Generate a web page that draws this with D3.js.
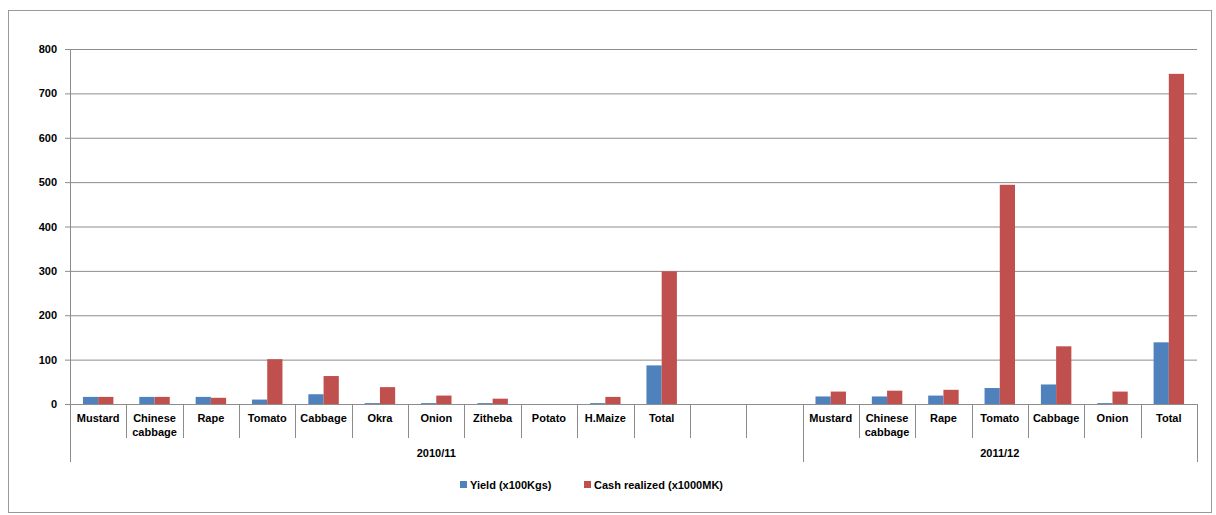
<!DOCTYPE html>
<html><head><meta charset="utf-8">
<script src="https://cdn.jsdelivr.net/npm/d3@7"></script>
<style>body{margin:0;background:#fff;font-family:"Liberation Sans",Arial,sans-serif}</style>
</head><body><svg id="c" width="1216" height="515"></svg>
<script>
// categories; empty strings are blank slots
var categories = ["Mustard","Chinese\ncabbage","Rape","Tomato","Cabbage","Okra","Onion","Zitheba","Potato","H.Maize","Total","","",
                  "Mustard","Chinese\ncabbage","Rape","Tomato","Cabbage","Onion","Total"];
var groups = [{name:"2010/11", start:0, end:13},{name:"2011/12", start:13, end:20}];
var yieldVals = [16,16,16,10,22,2,2,2,0,2,87,null,null, 17,17,19,36,44,2,139];
var cashVals  = [16,16,14,101,63,38,19,12,0,16,299,null,null, 28,30,32,494,130,28,744];
var yTicks = [0,100,200,300,400,500,600,700,800];

var svg = d3.select("#c");
svg.append("rect").attr("x",8.5).attr("y",10.5).attr("width",1203).attr("height",502)
  .attr("fill","none").attr("stroke","#999");

var x0 = 70, x1 = 1197, yTop = 49, yBot = 404;
var x = d3.scaleBand().domain(d3.range(categories.length)).range([x0,x1]);
var xs = d3.scaleBand().domain(["y","c"]).range([0,x.bandwidth()]).paddingOuter(0.85).paddingInner(0);
var y = d3.scaleLinear().domain([0,800]).range([yBot,yTop]);

svg.append("g").selectAll("line").data(yTicks).join("line")
  .attr("x1",x0).attr("x2",x1).attr("y1",d=>y(d)+0.5).attr("y2",d=>y(d)+0.5)
  .attr("stroke","#8c8c8c").attr("stroke-width",1);

var ya = svg.append("g").attr("transform","translate("+x0+",0)")
  .call(d3.axisLeft(y).tickValues(yTicks).tickSize(5).tickPadding(8));
ya.select(".domain").attr("stroke","#8c8c8c");
ya.selectAll(".tick line").attr("stroke","#8c8c8c");
ya.selectAll("text").attr("font-size",11).attr("font-weight","bold").attr("fill","#000");

var idx = d3.range(categories.length);
svg.append("g").selectAll("rect").data(idx.filter(i=>yieldVals[i]!=null)).join("rect")
  .attr("x",i=>x(i)+xs("y")).attr("width",xs.bandwidth())
  .attr("y",i=>y(yieldVals[i])).attr("height",i=>yBot-y(yieldVals[i]))
  .attr("fill","#4f81bd");
svg.append("g").selectAll("rect").data(idx.filter(i=>cashVals[i]!=null)).join("rect")
  .attr("x",i=>x(i)+xs("c")).attr("width",xs.bandwidth())
  .attr("y",i=>y(cashVals[i])).attr("height",i=>yBot-y(cashVals[i]))
  .attr("fill","#c0504d");

svg.append("line").attr("x1",x0).attr("x2",x1).attr("y1",yBot+0.5).attr("y2",yBot+0.5).attr("stroke","#8c8c8c");
var px = i => Math.round(i<categories.length?x(i):x1)+0.5;
svg.append("g").selectAll("line").data(d3.range(categories.length+1)).join("line")
  .attr("x1",px).attr("x2",px).attr("y1",yBot).attr("y2",438).attr("stroke","#8c8c8c");
svg.append("g").selectAll("line").data([0,13,20]).join("line")
  .attr("x1",px).attr("x2",px).attr("y1",438).attr("y2",462).attr("stroke","#8c8c8c");

var cl = svg.append("g").attr("font-size",11).attr("font-weight","bold").attr("text-anchor","middle");
idx.forEach(function(i){
  categories[i].split("\n").forEach(function(t,k){
    cl.append("text").attr("x",x(i)+x.bandwidth()/2).attr("y",422+k*14).text(t);
  });
});
svg.append("g").selectAll("text").data(groups).join("text")
  .attr("x",g=>(x(g.start)+(g.end<categories.length?x(g.end):x1))/2).attr("y",457)
  .attr("text-anchor","middle").attr("font-size",11).attr("font-weight","bold").text(g=>g.name);

var leg = [{n:"Yield (x100Kgs)",c:"#4f81bd"},{n:"Cash realized (x1000MK)",c:"#c0504d"}];
var lx = [460,584];
leg.forEach(function(l,i){
  svg.append("rect").attr("x",lx[i]).attr("y",481).attr("width",7).attr("height",7).attr("fill",l.c);
  svg.append("text").attr("x",lx[i]+10).attr("y",488.5).attr("font-size",11).attr("font-weight","bold").text(l.n);
});
</script></body></html>
